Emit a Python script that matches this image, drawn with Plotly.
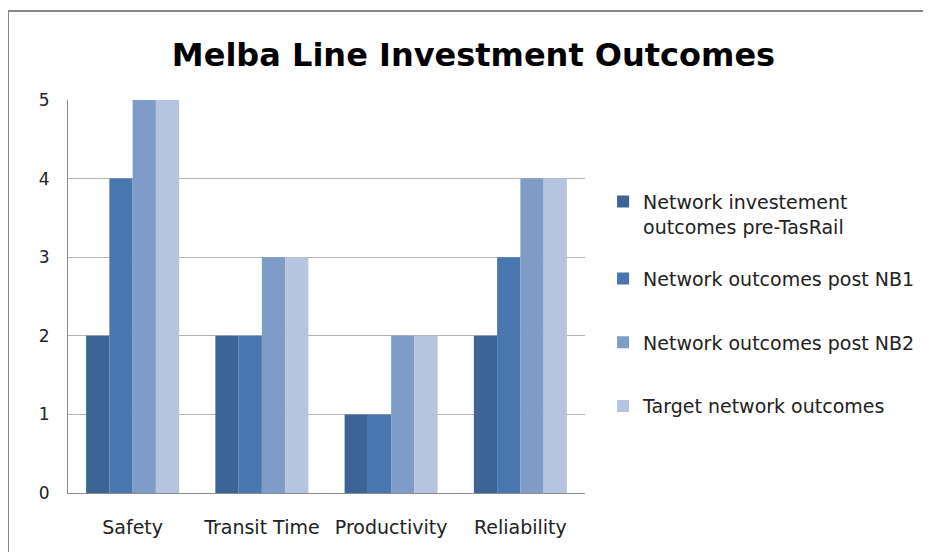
import plotly.graph_objects as go

CATEGORIES = ["Safety", "Transit Time", "Productivity", "Reliability"]
SERIES_NAMES = [
    "Network investement<br>outcomes pre-TasRail<br> ",
    "Network outcomes post NB1",
    "Network outcomes post NB2",
    "Target network outcomes",
]
PRE_TASRAIL = [2, 2, 1, 2]
POST_NB1 = [4, 2, 1, 3]
POST_NB2 = [5, 3, 2, 4]
TARGET = [5, 3, 2, 4]

COLORS = ["#3C6496", "#4877B0", "#7F9CC8", "#B5C4DF"]
GROUPS = ["a", "a", "c", "d"]
FONT = "DejaVu Sans"

fig = go.Figure()
for i, (name, vals) in enumerate(zip(SERIES_NAMES, [PRE_TASRAIL, POST_NB1, POST_NB2, TARGET])):
    fig.add_trace(go.Bar(
        x=CATEGORIES, y=vals, name=name,
        marker=dict(color=COLORS[i], line=dict(width=0)),
        legendgroup=GROUPS[i],
    ))

# chart outer border (only top and left edges are visible in the frame)
fig.add_shape(type="rect", xref="paper", yref="paper",
              x0=-0.116, x1=1.8, y0=-0.3, y1=1.2265,
              line=dict(color="#878787", width=2), layer="below")

fig.update_layout(
    width=931, height=552,
    margin=dict(l=60, r=354, t=92, b=67),
    paper_bgcolor="white", plot_bgcolor="white",
    barmode="group", bargap=0.28, bargroupgap=0,
    font=dict(family=FONT, size=16, color="#222222"),
    title=dict(text="<b>Melba Line Investment Outcomes</b>", x=0.5, xanchor="center",
               xref="container", y=0.916, yanchor="middle",
               font=dict(family=FONT, size=32, color="black")),
    legend=dict(x=1.035, xanchor="left", y=0.79, yanchor="top", valign="top",
                font=dict(family=FONT, size=19, color="#222222"),
                tracegroupgap=36, traceorder="grouped", itemwidth=30),
    xaxis=dict(showgrid=False, showline=True, linecolor="#8C8C8C", linewidth=1,
               ticks="", ticklabelstandoff=17, tickfont=dict(size=19)),
    yaxis=dict(range=[0, 5], dtick=1, showgrid=True, gridcolor="#B3B3B3", gridwidth=1,
               showline=True, linecolor="#8C8C8C", linewidth=1, zeroline=False,
               ticks="", ticklabelstandoff=14, tickfont=dict(size=17)),
)

fig.write_html("out.html")
